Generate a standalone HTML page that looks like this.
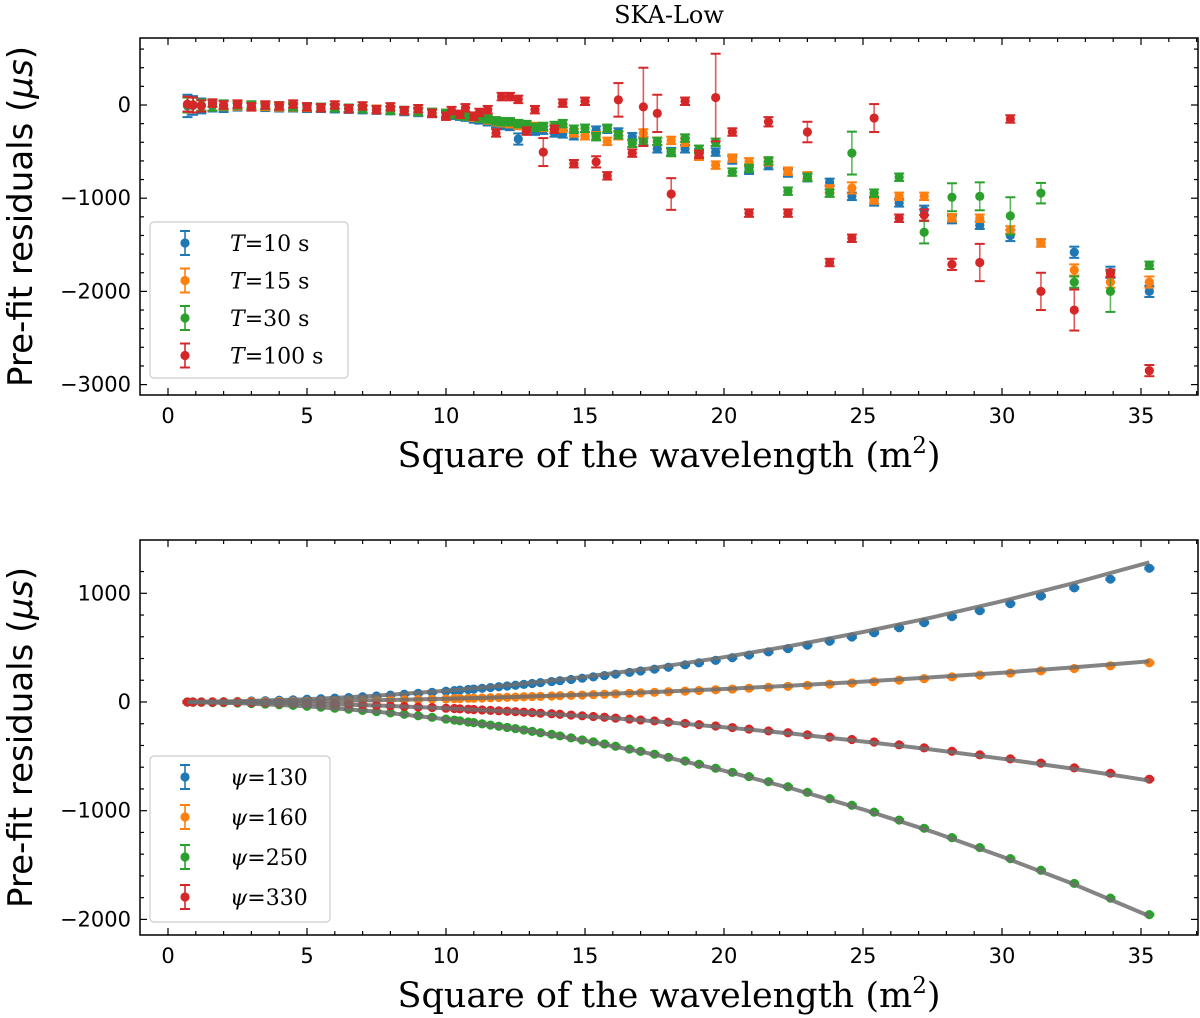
<!DOCTYPE html>
<html><head><meta charset="utf-8"><style>
html,body{margin:0;padding:0;background:#fff;}
svg{display:block;}
text{font-family:"DejaVu Sans","Liberation Sans",sans-serif;fill:#000;}
.serif{font-family:"DejaVu Serif","Liberation Serif",serif;}
</style></head><body>
<svg id="chart" width="1200" height="1018" viewBox="0 0 1200 1018" xmlns="http://www.w3.org/2000/svg">
<text class="serif" x="669" y="23" font-size="24" text-anchor="middle">SKA-Low</text>
<g id="top"></g>
<g id="bot"></g>
</svg>
<script>
// ---------- top panel data ----------
const topX = [35.3,33.9,32.6,31.4,30.3,29.2,28.2,27.2,26.3,25.4,24.6,23.8,23.0,22.3,21.6,20.9,20.3,19.7,19.1,18.6,18.1,17.6,17.1,16.7,16.2,15.8,15.4,15.0,14.6,14.2,13.9,13.5,13.2,12.9,12.6,12.3,12.0,11.8,11.5,11.2,11.0,10.7,10.5,10.2,10.0,9.5,9.0,8.5,8.0,7.5,7.0,6.5,6.0,5.5,5.0,4.5,4.0,3.5,3.0,2.5,2.0,1.6,1.2,0.9,0.7];
const topBlue = [-2000,-1795,-1580,-1480,-1400,-1290,-1230,-1130,-1050,-1040,-980,-830,-780,-730,-650,-700,-590,-505,-516,-470,-500,-470,-390,-340,-290,-260,-270,-330,-330,-310,-300,-270,-280,-250,-365,-230,-220,-200,-180,-160,-150,-130,-120,-110,-100,-90,-80,-70,-60,-55,-50,-45,-40,-35,-35,-30,-30,-25,-20,-20,-15,-10,-10,-5,-10];
const topOrange = [-1900,-1900,-1770,-1480,-1340,-1215,-1210,-980,-980,-1020,-890,-900,-760,-710,-610,-610,-570,-645,-550,-400,-380,-390,-300,-410,-330,-390,-330,-330,-300,-250,-250,-240,-230,-230,-220,-200,-190,-180,-160,-140,-130,-120,-110,-100,-90,-80,-70,-60,-50,-45,-40,-35,-30,-30,-25,-20,-20,-15,-10,-10,-5,0,-5,0,0];
const topGreen = [-1720,-2000,-1900,-946,-1190,-980,-990,-1365,-775,-946,-516,-946,-775,-925,-600,-680,-720,-400,-475,-355,-510,-390,-400,-410,-320,-250,-340,-250,-260,-200,-220,-230,-240,-210,-200,-180,-180,-170,-150,-140,-120,-120,-110,-100,-90,-80,-70,-60,-55,-50,-40,-35,-30,-25,-20,-15,-10,-5,0,0,0,0,0,0,0];
const topRed = [-2850,-1806,-2200,-2000,-150,-1690,-1710,-1180,-1215,-140,-1430,-1690,-290,-1160,-180,-1160,-290,80,-530,40,-955,-90,-20,-516,55,-760,-610,40,-630,20,-260,-505,-50,-280,60,90,90,-300,-50,-80,-120,-30,-100,-60,-120,-90,-40,-60,-20,-50,-10,-40,0,-30,-20,10,-10,0,-20,10,0,20,-10,0,10];
const errBlue = [60,60,60,40,60,40,40,50,40,40,40,40,40,40,40,40,40,40,40,40,40,40,40,40,40,40,40,40,40,40,40,40,40,40,60,40,40,40,40,40,40,40,40,40,40,40,40,40,40,40,40,40,40,40,40,40,40,40,40,40,60,60,80,100,120];
const errOrange = [60,60,60,40,40,40,40,40,40,40,60,40,40,40,40,40,40,40,40,40,40,40,40,40,40,40,40,40,40,40,40,40,40,40,40,40,40,40,40,40,40,40,40,40,40,40,40,40,40,40,40,40,40,40,40,40,40,40,40,40,50,60,60,80,80];
const errGreen = [40,220,60,110,200,150,150,120,40,40,230,40,40,40,40,40,40,40,40,40,40,40,40,40,40,40,40,40,40,40,40,40,40,40,40,40,40,40,40,40,40,40,40,40,40,40,40,40,40,40,40,40,40,40,40,40,40,40,40,40,50,60,60,80,80];
const errRed = [60,40,220,200,40,200,60,60,40,150,40,40,110,40,50,40,40,470,40,40,170,200,420,40,180,40,60,40,40,40,40,150,40,40,40,40,40,40,40,40,40,40,40,40,40,40,40,40,40,40,40,40,40,40,40,40,40,40,40,40,40,40,60,80,80];
const topLegend = ["10 s","15 s","30 s","100 s"];

// ---------- bottom panel data ----------
const botX = [35.3,33.9,32.6,31.4,30.3,29.2,28.2,27.2,26.3,25.4,24.6,23.8,23.0,22.3,21.6,20.9,20.3,19.7,19.1,18.6,18.0,17.5,17.0,16.6,16.1,15.7,15.3,14.9,14.5,14.1,13.8,13.4,13.1,12.8,12.5,12.2,11.9,11.6,11.3,11.0,10.8,10.5,10.3,10.0,9.5,9.0,8.5,8.0,7.5,7.0,6.5,6.0,5.5,5.0,4.5,4.0,3.5,3.0,2.5,2.0,1.6,1.2,0.9,0.7];
const botBlue = [1230,1130,1050,975,905,840,785,730,683,637,598,559,522,491,461,432,407,383,360,342,320,302,285,272,256,243,231,219,207,196,188,178,170,162,154,147,140,133,126,119,115,109,105,99,89,80,71,63,55,48,41,36,30,25,20,16,12,9,6,4,3,1,1,0];
const botOrange = [361,333,308,286,266,247,231,215,201,187,175,164,153,144,135,127,119,113,106,100,94,89,84,80,75,71,68,64,61,58,55,52,50,48,45,43,41,39,37,35,34,32,31,29,26,23,21,19,16,14,12,10,9,7,6,5,3,3,2,1,1,0,0,0];
const botGreen = [-1956,-1804,-1669,-1548,-1441,-1339,-1248,-1162,-1086,-1013,-950,-889,-831,-780,-733,-686,-647,-609,-573,-543,-509,-480,-454,-433,-407,-386,-367,-349,-330,-312,-298,-283,-270,-257,-245,-234,-223,-212,-201,-190,-184,-173,-166,-157,-141,-127,-113,-100,-88,-77,-66,-57,-47,-39,-31,-25,-19,-14,-9,-6,-5,-2,-2,0];
const botRed = [-710,-655,-606,-562,-523,-486,-453,-422,-394,-368,-345,-323,-302,-283,-266,-249,-235,-221,-208,-197,-185,-174,-165,-157,-148,-140,-133,-127,-120,-113,-108,-103,-98,-93,-89,-85,-81,-77,-73,-69,-67,-63,-60,-57,-51,-46,-41,-36,-32,-28,-24,-21,-17,-14,-11,-9,-7,-5,-3,-2,-2,-1,-1,0];
const fitX = [0.7,2.5,5,7.5,10,12.5,15,17.5,20,22.5,25,27.5,30,32.5,35.3];
const fitBlue = [1,6,26,58,103,161,232,315,412,521,644,779,927,1088,1284];
const fitOrange = [0,2,8,17,30,47,68,92,120,152,188,227,270,317,374];
const fitRed = [0,-4,-15,-32,-58,-90,-131,-177,-232,-293,-363,-438,-522,-612,-723];
const fitGreen = [-1,-10,-40,-88,-158,-246,-356,-483,-632,-800,-988,-1194,-1422,-1668,-1969];
const botLegend = ["130","160","250","330"];

const xTicks = [0,5,10,15,20,25,30,35];
const topYTicks = [0,-1000,-2000,-3000];
const botYTicks = [1000,0,-1000,-2000];
const colors = ["#1f77b4","#ff7f0e","#2ca02c","#d62728"];
const NS = "http://www.w3.org/2000/svg";

function mk(tag, attrs, parent){
  const e = document.createElementNS(NS, tag);
  for (const k in attrs) e.setAttribute(k, attrs[k]);
  parent.appendChild(e);
  return e;
}
const L = 140, R = 1198;
const xs = v => 168 + v * 27.8;

function drawAxes(g, top, bottom, ys, yTicks, yMin, yMax, axisName){
  for (let v = 0; v <= 37; v++){
    const x = xs(v); if (x > R) break;
    const len = (v % 5 === 0) ? 7 : 4;
    const t1 = mk('line',{x1:x,x2:x,y1:bottom,y2:bottom-len,stroke:'#000','stroke-width':1.2},g);
    
    
    mk('line',{x1:x,x2:x,y1:top,y2:top+len,stroke:'#000','stroke-width':1.2},g);
  }
  for (let v = Math.ceil(yMin/200)*200; v <= yMax; v += 200){
    const y = ys(v); if (y < top || y > bottom) continue;
    const len = (v % 1000 === 0) ? 7 : 4;
    const t = mk('line',{x1:L,x2:L+len,y1:y,y2:y,stroke:'#000','stroke-width':1.2},g);
    
    
    mk('line',{x1:R,x2:R-len,y1:y,y2:y,stroke:'#000','stroke-width':1.2},g);
  }
  xTicks.forEach(v => {
    const t = mk('text',{x:xs(v),y:bottom+28,'font-size':21,'text-anchor':'middle'},g);
    t.textContent = String(v);
    
    
  });
  yTicks.forEach(v => {
    const t = mk('text',{x:131,y:ys(v)+7,'font-size':21,'text-anchor':'end'},g);
    t.textContent = v < 0 ? '\u2212' + Math.abs(v) : String(v);
    
    
  });
  const box = mk('rect',{x:L,y:top,width:R-L,height:bottom-top,fill:'none',stroke:'#000','stroke-width':1.5},g);
  
  
  const xl = mk('text',{x:669,y:bottom+72,'font-size':35,'text-anchor':'middle','class':'serif'},g);
  xl.innerHTML = 'Square of the wavelength (m<tspan dy="-14" font-size="23">2</tspan><tspan dy="14">)</tspan>';
  
  
  const cy = (top+bottom)/2;
  const yl = mk('text',{x:0,y:0,'font-size':34,'text-anchor':'middle',transform:`translate(32,${cy}) rotate(-90)`},g);
  yl.innerHTML = 'Pre-fit residuals (<tspan font-style="italic">μs</tspan>)';
  
  
}

function drawPoint(g, x, y, e, c, ys){
  const px = xs(x), py = ys(y);
  if (e > 0){
    const y1 = ys(y+e), y2 = ys(y-e);
    mk('line',{x1:px,x2:px,y1:y1,y2:y2,stroke:c,'stroke-width':1.6,opacity:0.75},g);
    mk('line',{x1:px-5,x2:px+5,y1:y1,y2:y1,stroke:c,'stroke-width':2},g);
    mk('line',{x1:px-5,x2:px+5,y1:y2,y2:y2,stroke:c,'stroke-width':2},g);
  }
  return mk('circle',{cx:px,cy:py,r:4.6,fill:c},g);
}

function drawLegend(g, x, y, w, h, step, labels, prefix){
  const lg = mk('g',{},g);
  
  
  mk('rect',{x:x,y:y,width:w,height:h,rx:4,fill:'#fff','fill-opacity':0.85,stroke:'#ccc','stroke-width':1.2},lg);
  labels.forEach((lab,i) => {
    const eg = mk('g',{},lg);
    
    
    const cy = y + 21 + i*step;
    const cx = x + 35;
    mk('line',{x1:cx,x2:cx,y1:cy-12,y2:cy+12,stroke:colors[i],'stroke-width':1.6},eg);
    mk('line',{x1:cx-5,x2:cx+5,y1:cy-12,y2:cy-12,stroke:colors[i],'stroke-width':2},eg);
    mk('line',{x1:cx-5,x2:cx+5,y1:cy+12,y2:cy+12,stroke:colors[i],'stroke-width':2},eg);
    mk('circle',{cx:cx,cy:cy,r:4.6,fill:colors[i]},eg);
    const t = mk('text',{x:x+80,y:cy+8,'font-size':22,'class':'serif'},eg);
    t.innerHTML = prefix + lab;
  });
}

// ---- top panel ----
(function(){
  const g = document.getElementById('top');
  const top = 38, bottom = 395;
  const ys = v => 105 - v * 0.0932;
  const series = [[topBlue,errBlue],[topOrange,errOrange],[topGreen,errGreen],[topRed,errRed]];
  series.forEach((s,si) => {
    const sg = mk('g',{},g);
    
    
    topX.forEach((x,i) => {
      const p = drawPoint(sg, x, s[0][i], s[1][i], colors[si], ys);
      
      
    });
  });
  drawAxes(g, top, bottom, ys, topYTicks, -3300, 700, 'top-axes');
  drawLegend(g, 150, 222, 198, 156, 37.5, topLegend, '<tspan font-style="italic">T</tspan>=');
})();

// ---- bottom panel ----
(function(){
  const g = document.getElementById('bot');
  const top = 540, bottom = 935;
  const ys = v => 702 - v * 0.1087;
  const series = [botBlue, botOrange, botGreen, botRed];
  series.forEach((s,si) => {
    const sg = mk('g',{},g);
    
    
    botX.forEach((x,i) => {
      const p = drawPoint(sg, x, s[i], 8, colors[si], ys);
      
      
    });
  });
  [fitBlue, fitOrange, fitRed, fitGreen].forEach((f,fi) => {
    const d = fitX.map((x,i) => (i ? 'L' : 'M') + xs(x).toFixed(1) + ',' + ys(f[i]).toFixed(1)).join(' ');
    const p = mk('path',{d:d,fill:'none',stroke:'#6e6e6e','stroke-width':4,opacity:0.85,'stroke-linejoin':'round'},g);
    
    
  });
  drawAxes(g, top, bottom, ys, botYTicks, -2200, 1300, 'bottom-axes');
  drawLegend(g, 150, 756, 180, 166, 40, botLegend, '<tspan font-style="italic">ψ</tspan>=');
})();
</script>
</body></html>
